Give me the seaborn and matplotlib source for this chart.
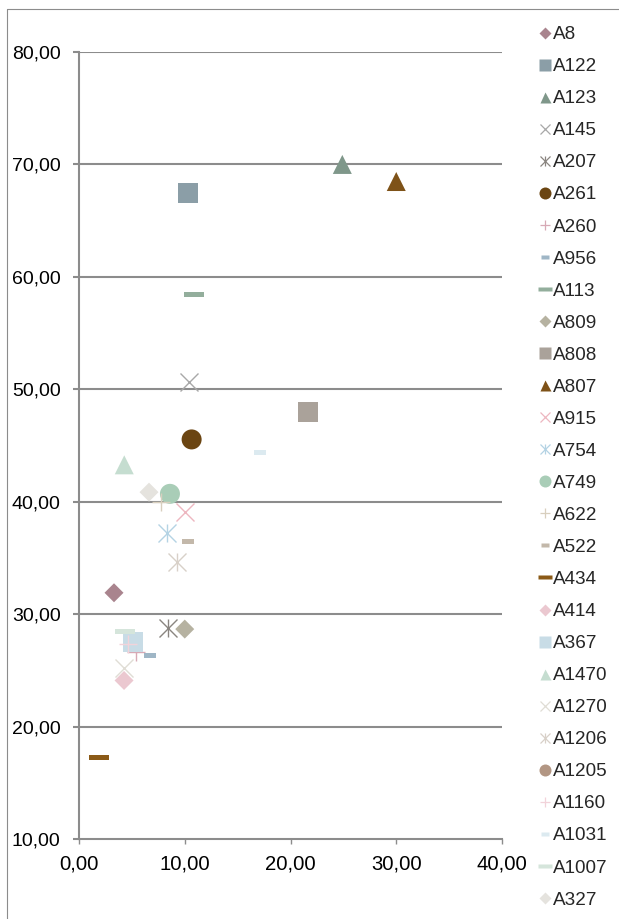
import matplotlib
matplotlib.use("Agg")
import matplotlib.pyplot as plt
import seaborn as sns
from matplotlib.path import Path
from matplotlib.lines import Line2D
from matplotlib.legend_handler import HandlerTuple
from matplotlib.ticker import FuncFormatter, MultipleLocator

# ---- data -------------------------------------------------------------
series = ["A8", "A122", "A123", "A145", "A207", "A261", "A260", "A956", "A113",
          "A809", "A808", "A807", "A915", "A754", "A749", "A622", "A522", "A434",
          "A414", "A367", "A1470", "A1270", "A1206", "A1205", "A1160", "A1031",
          "A1007", "A327"]
x_values = [3.31, 10.31, 24.9, 10.4, 8.42, 10.65, 5.4, 6.71, 10.87,
            10.0, 21.68, 30.0, 10.0, 8.3, 8.6, 7.75, 10.3, 1.89,
            4.26, 5.1, 4.28, 4.26, 9.3, None, 4.66, 17.12,
            4.35, 6.62]
y_values = [31.9, 67.46, 70.0, 50.67, 28.75, 45.54, 26.6, 26.3, 58.44,
            28.67, 48.0, 68.48, 39.1, 37.25, 40.7, 39.96, 36.5, 17.28,
            24.1, 27.5, 43.28, 25.2, 34.6, None, 27.3, 44.4,
            28.5, 40.85]
x_ticks = [0, 10, 20, 30, 40]
y_ticks = [10, 20, 30, 40, 50, 60, 70, 80]

# ---- styles -----------------------------------------------------------
marker_cycle = ["diamond", "square", "triangle", "x", "asterisk", "circle",
                "plus", "short_dash", "long_dash"]
colors = ["#A9848E", "#8B9EA7", "#7F978A", "#A8A8A8", "#8A8580", "#6B4512",
          "#D7A9B5", "#9FB6C6", "#93AE9C", "#B6B2A1", "#AAA29A", "#7E5218",
          "#EDB7C0", "#B4D3E4", "#A9CDB7", "#D8CFBE", "#C3B8AA", "#8B5A17",
          "#EBC8D0", "#C8DCE6", "#C5DDD0", "#E0DDD5", "#D8D0C8", "#B29683",
          "#F2D3DA", "#DCEAF0", "#D5E5DB", "#E5E3DE"]

DPI = 100
PT = DPI / 72.0  # pixels per point
FS_LEGEND = 13.6
FS_Y = 14.0
FS_X = 14.6

long_dash = Path([(-1, -0.25), (1, -0.25), (1, 0.25), (-1, 0.25), (-1, -0.25)],
                 [Path.MOVETO, Path.LINETO, Path.LINETO, Path.LINETO, Path.CLOSEPOLY])
short_dash = Path([(-1, -0.42), (1, -0.42), (1, 0.42), (-1, 0.42), (-1, -0.42)],
                  [Path.MOVETO, Path.LINETO, Path.LINETO, Path.LINETO, Path.CLOSEPOLY])

# (matplotlib marker, size in px for the plot, size in px for the legend, filled)
marker_spec = {
    "diamond": ("D", 19 / 1.414, 11 / 1.414, True),
    "square": ("s", 20, 12, True),
    "triangle": ("^", 19, 11, True),
    "x": ("x", 18, 10, False),
    "asterisk": ("x", 18, 10, False),
    "circle": ("o", 20, 12, True),
    "plus": ("+", 18, 10, False),
    "short_dash": (short_dash, 12, 8, True),
    "long_dash": (long_dash, 20, 13, True),
}

sns.set_style("white")
plt.rcParams["font.family"] = ["Liberation Sans", "DejaVu Sans"]

fig = plt.figure(figsize=(619 / DPI, 919 / DPI), dpi=DPI)
ax = fig.add_axes([79 / 619, 1 - 839 / 919, (502 - 79) / 619, (839 - 52) / 919])

grid_color = "#8C8C8C"
for yv in y_ticks[1:]:
    ax.axhline(yv, color=grid_color, lw=1.5, zorder=0)

handles = []
for i, name in enumerate(series):
    kind = marker_cycle[i % len(marker_cycle)]
    mk, size_px, leg_px, filled = marker_spec[kind]
    c = colors[i]
    s = (size_px / PT) ** 2
    xv, yv = x_values[i], y_values[i]
    if xv is not None:
        if filled:
            sns.scatterplot(x=[xv], y=[yv], marker=mk, s=s, color=c,
                            edgecolor="none", linewidth=0, ax=ax, zorder=3 + i * 0.01)
        else:
            sns.scatterplot(x=[xv], y=[yv], marker=mk, s=s, color=c,
                            linewidth=1.0, ax=ax, zorder=3 + i * 0.01)
            if kind == "asterisk":
                sns.scatterplot(x=[xv], y=[yv], marker="|", s=s, color=c,
                                linewidth=1.0, ax=ax, zorder=3 + i * 0.01)
    ms = leg_px / PT
    if filled:
        h = Line2D([], [], marker=mk, linestyle="none", markersize=ms,
                   markerfacecolor=c, markeredgecolor="none")
    else:
        h = Line2D([], [], marker=mk, linestyle="none", markersize=ms,
                   color=c, markeredgewidth=0.9)
        if kind == "asterisk":
            h = (h, Line2D([], [], marker="|", linestyle="none", markersize=ms,
                           color=c, markeredgewidth=0.9))
    handles.append(h)

ax.set_xlim(0, 40)
ax.set_ylim(10, 80)
ax.xaxis.set_major_locator(MultipleLocator(10))
ax.yaxis.set_major_locator(MultipleLocator(10))
fmt = FuncFormatter(lambda v, _: f"{v:.2f}".replace(".", ","))
ax.xaxis.set_major_formatter(fmt)
ax.yaxis.set_major_formatter(fmt)
ax.set_xlabel("")
ax.set_ylabel("")

for side in ("top", "right"):
    ax.spines[side].set_visible(False)
for side in ("left", "bottom"):
    ax.spines[side].set_color(grid_color)
    ax.spines[side].set_linewidth(1.5)

ax.tick_params(axis="y", direction="out", length=4.3, width=1.5, color=grid_color,
               pad=9.0, labelsize=FS_Y, labelcolor="black", left=True)
ax.tick_params(axis="x", direction="out", length=3.6, width=1.0, color=grid_color,
               pad=7.5, labelsize=FS_X, labelcolor="black", bottom=True)

leg = ax.legend(handles, series, loc="upper left",
                bbox_to_anchor=(539.5 / 619, 1 - 26.0 / 919),
                bbox_transform=fig.transFigure, frameon=False,
                handlelength=0.6, handletextpad=0.13, labelspacing=0.785,
                borderpad=0, borderaxespad=0, fontsize=FS_LEGEND,
                handler_map={tuple: HandlerTuple(ndivide=1)})

# chart-area border
fig.add_artist(Line2D([7 / 619, 7 / 619], [0, 1 - 9 / 919], transform=fig.transFigure,
                      color="#8C8C8C", lw=0.8))
fig.add_artist(Line2D([7 / 619, 1], [1 - 9 / 919, 1 - 9 / 919], transform=fig.transFigure,
                      color="#8C8C8C", lw=0.8))

fig.savefig("out.png", dpi=DPI)
